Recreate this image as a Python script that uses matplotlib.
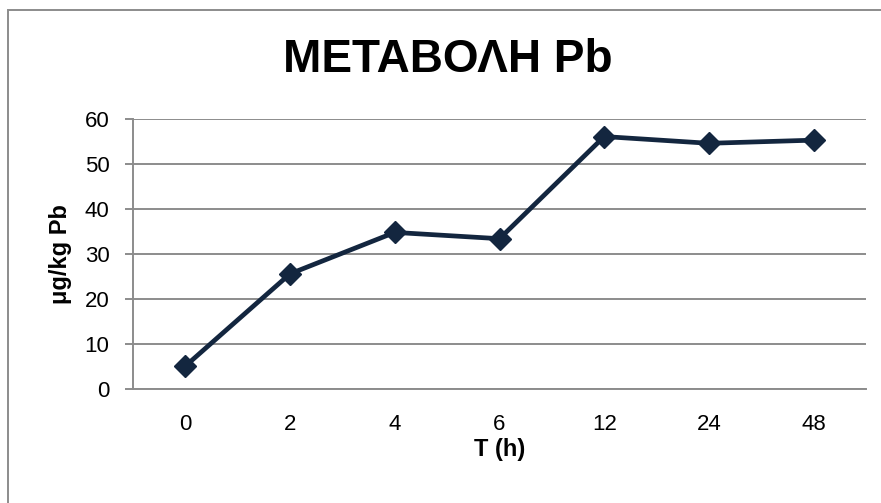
import numpy as np
import matplotlib.pyplot as plt
from matplotlib.patches import Rectangle

plt.rcParams['font.family'] = ['Liberation Sans', 'DejaVu Sans']

# Pb concentration over time
hours = ['0', '2', '4', '6', '12', '24', '48']
pb = [5.1, 25.6, 34.8, 33.4, 56.1, 54.6, 55.3]

W, H = 881, 503
fig = plt.figure(figsize=(W / 100, H / 100), dpi=100)
fig.patch.set_facecolor('white')

# chart frame
fig.patches.append(Rectangle((8 / W, -0.1), 1.2, 1 - 10 / H + 0.1,
                             transform=fig.transFigure, fill=False,
                             edgecolor='#8c8c8c', lw=1.4))

ax = fig.add_axes([133 / W, 1 - 389 / H, (866 - 133) / W, (389 - 119) / H])
x = np.arange(len(hours))
ax.plot(x, pb, color='#13263f', lw=3.4, marker='D', ms=11.5, zorder=3)

ax.set_xlim(-0.5, len(hours) - 0.5)
ax.set_ylim(0, 60)
ax.set_yticks(range(0, 61, 10))
ax.set_xticks(x)
ax.set_xticklabels(hours)
ax.yaxis.grid(True, color='#8c8c8c', lw=1.4)
ax.set_axisbelow(True)

for s in ['top', 'right']:
    ax.spines[s].set_visible(False)
for s in ['left', 'bottom']:
    ax.spines[s].set_color('#8c8c8c')
    ax.spines[s].set_linewidth(1.4)

ax.tick_params(axis='y', length=6, width=1.4, color='#8c8c8c', labelsize=16, pad=11)
ax.tick_params(axis='x', length=0, labelsize=16, pad=18)

ax.set_xlabel('T (h)', fontsize=17, fontweight='bold', labelpad=2)
ax.set_ylabel('μg/kg Pb', fontsize=17, fontweight='bold', labelpad=9)
fig.text(448 / W, 1 - 60 / H, 'ΜΕΤΑΒΟΛΗ Pb', fontsize=33, fontweight='bold',
         ha='center', va='center')

fig.savefig('out.png', dpi=100)
